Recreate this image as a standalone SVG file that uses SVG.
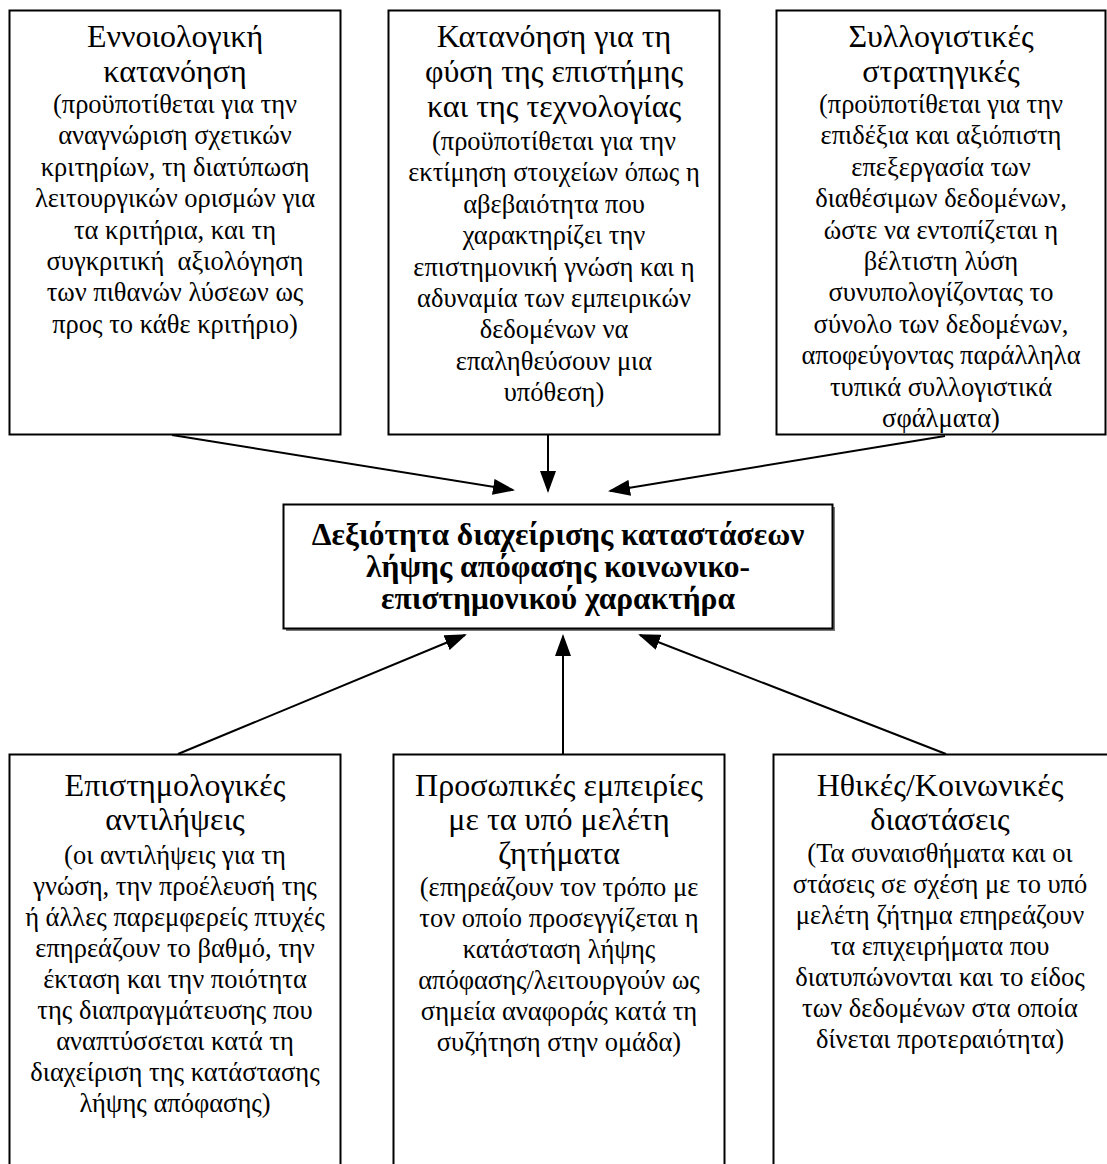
<svg xmlns="http://www.w3.org/2000/svg" width="1107" height="1164" viewBox="0 0 1107 1164">
<style>
.box{fill:#fff;stroke:#000;stroke-width:2}
.t{font-family:"Liberation Serif","Times New Roman","DejaVu Serif",serif;fill:#000;text-anchor:middle}
.ti{font-size:32px}
.bd{font-size:26.5px}
.hd{font-size:31.5px;font-weight:bold}
.cn{stroke:#000;stroke-width:2;fill:none;marker-end:url(#ah)}
</style>
<defs>
<marker id="ah" markerUnits="userSpaceOnUse" markerWidth="22" markerHeight="16" refX="20" refY="8" orient="auto">
<path d="M0,0 L22,8 L0,16 Z" fill="#000"/>
</marker>
</defs>
<rect x="0" y="0" width="1107" height="1164" fill="#fff"/>

<g id="connectors">
<line class="cn" x1="172" y1="435" x2="513" y2="490"/>
<line class="cn" x1="548" y1="435" x2="548" y2="491"/>
<line class="cn" x1="945" y1="436" x2="610" y2="491"/>
<line class="cn" x1="178" y1="754" x2="465" y2="635"/>
<line class="cn" x1="563" y1="754" x2="563" y2="636"/>
<line class="cn" x1="946" y1="754" x2="640" y2="635"/>
</g>

<g id="n1">
<rect class="box" x="9.5" y="10.5" width="331" height="424"/>
<text class="t ti" x="175" y="47">Εννοιολογική</text>
<text class="t ti" x="175" y="82">κατανόηση</text>
<text class="t bd" x="175" y="113">(προϋποτίθεται για την</text>
<text class="t bd" x="175" y="144.4">αναγνώριση σχετικών</text>
<text class="t bd" x="175" y="175.8">κριτηρίων, τη διατύπωση</text>
<text class="t bd" x="175" y="207.2">λειτουργικών ορισμών για</text>
<text class="t bd" x="175" y="238.6">τα κριτήρια, και τη</text>
<text class="t bd" x="175" y="270">συγκριτική&#160; αξιολόγηση</text>
<text class="t bd" x="175" y="301.4">των πιθανών λύσεων ως</text>
<text class="t bd" x="175" y="332.8">προς το κάθε κριτήριο)</text>
</g>

<g id="n2">
<rect class="box" x="388.5" y="10.5" width="331" height="424"/>
<text class="t ti" x="554" y="47">Κατανόηση για τη</text>
<text class="t ti" x="554" y="82">φύση της επιστήμης</text>
<text class="t ti" x="554" y="117">και της τεχνολογίας</text>
<text class="t bd" x="554" y="150">(προϋποτίθεται για την</text>
<text class="t bd" x="554" y="181.4">εκτίμηση στοιχείων όπως η</text>
<text class="t bd" x="554" y="212.8">αβεβαιότητα που</text>
<text class="t bd" x="554" y="244.2">χαρακτηρίζει την</text>
<text class="t bd" x="554" y="275.6">επιστημονική γνώση και η</text>
<text class="t bd" x="554" y="307">αδυναμία των εμπειρικών</text>
<text class="t bd" x="554" y="338.4">δεδομένων να</text>
<text class="t bd" x="554" y="369.8">επαληθεύσουν μια</text>
<text class="t bd" x="554" y="401.2">υπόθεση)</text>
</g>

<g id="n3">
<rect class="box" x="776.5" y="10.5" width="329" height="424"/>
<text class="t ti" x="941" y="47">Συλλογιστικές</text>
<text class="t ti" x="941" y="82">στρατηγικές</text>
<text class="t bd" x="941" y="113">(προϋποτίθεται για την</text>
<text class="t bd" x="941" y="144.4">επιδέξια και αξιόπιστη</text>
<text class="t bd" x="941" y="175.8">επεξεργασία των</text>
<text class="t bd" x="941" y="207.2">διαθέσιμων δεδομένων,</text>
<text class="t bd" x="941" y="238.6">ώστε να εντοπίζεται η</text>
<text class="t bd" x="941" y="270">βέλτιστη λύση</text>
<text class="t bd" x="941" y="301.4">συνυπολογίζοντας το</text>
<text class="t bd" x="941" y="332.8">σύνολο των δεδομένων,</text>
<text class="t bd" x="941" y="364.2">αποφεύγοντας παράλληλα</text>
<text class="t bd" x="941" y="395.6">τυπικά συλλογιστικά</text>
<text class="t bd" x="941" y="427">σφάλματα)</text>
</g>

<g id="center">
<rect x="286" y="507" width="549" height="124" fill="#777"/>
<rect class="box" x="283.5" y="504.5" width="549" height="124"/>
<text class="t hd" x="558" y="545">Δεξιότητα διαχείρισης καταστάσεων</text>
<text class="t hd" x="558" y="577">λήψης απόφασης κοινωνικο-</text>
<text class="t hd" x="558" y="609">επιστημονικού χαρακτήρα</text>
</g>

<g id="n4">
<rect class="box" x="9.5" y="754.5" width="331" height="420"/>
<text class="t ti" x="175" y="796">Επιστημολογικές</text>
<text class="t ti" x="175" y="830">αντιλήψεις</text>
<text class="t bd" x="175" y="864">(οι αντιλήψεις για τη</text>
<text class="t bd" x="175" y="895">γνώση, την προέλευσή της</text>
<text class="t bd" x="175" y="926">ή άλλες παρεμφερείς πτυχές</text>
<text class="t bd" x="175" y="957">επηρεάζουν το βαθμό, την</text>
<text class="t bd" x="175" y="988">έκταση και την ποιότητα</text>
<text class="t bd" x="175" y="1019">της διαπραγμάτευσης που</text>
<text class="t bd" x="175" y="1050">αναπτύσσεται κατά τη</text>
<text class="t bd" x="175" y="1081">διαχείριση της κατάστασης</text>
<text class="t bd" x="175" y="1112">λήψης απόφασης)</text>
</g>

<g id="n5">
<rect class="box" x="393.5" y="754.5" width="331" height="420"/>
<text class="t ti" x="559" y="796">Προσωπικές εμπειρίες</text>
<text class="t ti" x="559" y="830">με τα υπό μελέτη</text>
<text class="t ti" x="559" y="864">ζητήματα</text>
<text class="t bd" x="559" y="896">(επηρεάζουν τον τρόπο με</text>
<text class="t bd" x="559" y="927">τον οποίο προσεγγίζεται η</text>
<text class="t bd" x="559" y="958">κατάσταση λήψης</text>
<text class="t bd" x="559" y="989">απόφασης/λειτουργούν ως</text>
<text class="t bd" x="559" y="1020">σημεία αναφοράς κατά τη</text>
<text class="t bd" x="559" y="1051">συζήτηση στην ομάδα)</text>
</g>

<g id="n6">
<rect class="box" x="773.5" y="754.5" width="340" height="420"/>
<text class="t ti" x="940" y="796">Ηθικές/Κοινωνικές</text>
<text class="t ti" x="940" y="830">διαστάσεις</text>
<text class="t bd" x="940" y="862">(Τα συναισθήματα και οι</text>
<text class="t bd" x="940" y="893">στάσεις σε σχέση με το υπό</text>
<text class="t bd" x="940" y="924">μελέτη ζήτημα επηρεάζουν</text>
<text class="t bd" x="940" y="955">τα επιχειρήματα που</text>
<text class="t bd" x="940" y="986">διατυπώνονται και το είδος</text>
<text class="t bd" x="940" y="1017">των δεδομένων στα οποία</text>
<text class="t bd" x="940" y="1048">δίνεται προτεραιότητα)</text>
</g>
</svg>
